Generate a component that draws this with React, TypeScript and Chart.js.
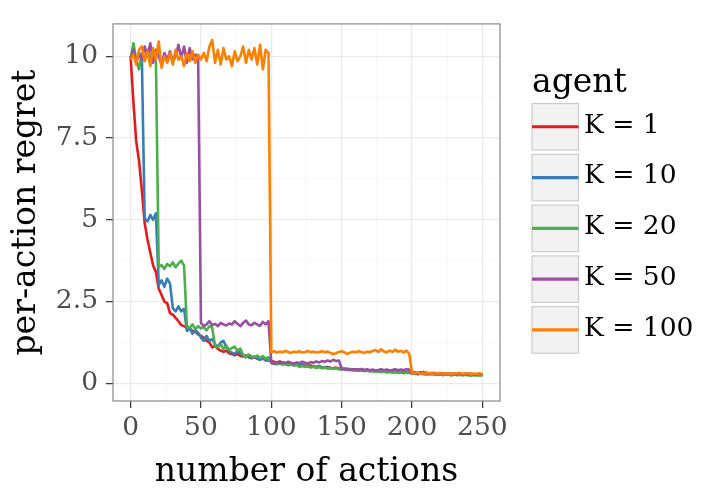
import React, { useEffect, useRef } from "react";
import { Chart, registerables } from "chart.js";

Chart.register(...registerables);

// number of actions (x values)
const actions: number[] = [
  0, 2, 4, 6, 8, 10, 12, 14, 16, 18, 20, 22, 24, 26, 28, 30, 32, 34, 36, 38,
  40, 42, 44, 46, 48, 50, 52, 54, 56, 58, 60, 62, 64, 66, 68, 70, 72, 74, 76, 78,
  80, 82, 84, 86, 88, 90, 92, 94, 96, 98, 100,
  102, 104, 106, 108, 110, 112, 114, 116, 118, 120, 122, 124, 126, 128, 130,
  132, 134, 136, 138, 140, 142, 144, 146, 148, 150,
  152, 154, 156, 158, 160, 162, 164, 166, 168, 170, 172, 174, 176, 178, 180,
  182, 184, 186, 188, 190, 192, 194, 196, 198, 200,
  202, 204, 206, 208, 210, 212, 214, 216, 218, 220, 222, 224, 226, 228, 230,
  232, 234, 236, 238, 240, 242, 244, 246, 248, 250,
];

const regretK1: number[] = [
  10.0, 8.6, 7.4, 6.8, 5.9, 4.9, 4.4, 4.0, 3.6, 3.4,
  2.9, 2.7, 2.5, 2.45, 2.15, 2.1, 2.0, 1.9, 1.78, 1.75,
  1.7, 1.68, 1.6, 1.58, 1.5, 1.45, 1.4, 1.3, 1.25, 1.1,
  1.15, 1.05, 1.0, 0.96, 1.0, 0.92, 0.9, 0.86, 0.9, 0.84,
  0.82, 0.85, 0.8, 0.77, 0.8, 0.75, 0.73, 0.76, 0.71, 0.7, 0.68,
  0.66, 0.64, 0.67, 0.62, 0.6, 0.63, 0.58, 0.6, 0.57, 0.55, 0.58, 0.54, 0.52,
  0.55, 0.51, 0.5, 0.53, 0.49, 0.48, 0.5, 0.47, 0.46, 0.48, 0.45, 0.44,
  0.45, 0.42, 0.44, 0.41, 0.43, 0.4, 0.42, 0.39, 0.41, 0.38, 0.4, 0.37, 0.39,
  0.36, 0.38, 0.37, 0.35, 0.38, 0.36, 0.34, 0.36, 0.33, 0.35, 0.34, 0.32,
  0.33, 0.31, 0.34, 0.3, 0.32, 0.31, 0.29, 0.32, 0.3, 0.28, 0.31, 0.29, 0.3,
  0.27, 0.29, 0.28, 0.3, 0.27, 0.28, 0.26, 0.28, 0.27, 0.25, 0.27, 0.26,
];

const regretK10: number[] = [
  9.9, 10.1, 9.85, 10.05, 9.95, 5.05, 4.95, 5.15, 5.0, 5.2,
  3.0, 3.15, 2.95, 3.2, 3.05, 2.3, 2.2, 2.35, 2.2, 2.28,
  1.6, 1.68, 1.52, 1.62, 1.55, 1.4, 1.3, 1.45, 1.3, 1.35,
  1.2, 1.12, 1.25, 1.3, 1.1, 0.98, 0.94, 0.9, 1.0, 0.92,
  0.85, 0.8, 0.86, 0.78, 0.82, 0.76, 0.72, 0.78, 0.7, 0.73, 0.66,
  0.62, 0.65, 0.6, 0.63, 0.59, 0.56, 0.6, 0.55, 0.58, 0.54, 0.56, 0.52, 0.55,
  0.5, 0.53, 0.49, 0.51, 0.47, 0.5, 0.46, 0.48, 0.45, 0.47, 0.44, 0.46,
  0.43, 0.45, 0.41, 0.43, 0.4, 0.42, 0.39, 0.41, 0.38, 0.4, 0.37, 0.39, 0.36,
  0.38, 0.36, 0.35, 0.37, 0.34, 0.36, 0.33, 0.35, 0.32, 0.34, 0.33, 0.31,
  0.34, 0.3, 0.32, 0.35, 0.31, 0.29, 0.32, 0.3, 0.28, 0.31, 0.29, 0.3, 0.27,
  0.3, 0.28, 0.26, 0.29, 0.27, 0.29, 0.26, 0.27, 0.25, 0.28, 0.26, 0.25,
];

const regretK20: number[] = [
  9.9, 10.4, 9.9, 9.6, 10.1, 9.9, 10.2, 9.95, 10.1, 9.85,
  3.55, 3.62, 3.5, 3.65, 3.58, 3.7, 3.55, 3.66, 3.75, 3.6,
  1.75, 1.7, 1.8, 1.65, 1.75, 1.68, 1.72, 1.62, 1.75, 1.7,
  1.15, 1.1, 1.2, 1.05, 1.15, 1.02, 1.08, 1.12, 1.0, 1.06,
  0.86, 0.8, 0.88, 0.82, 0.8, 0.85, 0.78, 0.83, 0.76, 0.8, 0.62,
  0.6, 0.58, 0.62, 0.57, 0.59, 0.55, 0.58, 0.54, 0.56, 0.5, 0.53, 0.5, 0.52,
  0.48, 0.51, 0.47, 0.5, 0.46, 0.48, 0.45, 0.47, 0.44, 0.46, 0.43, 0.42,
  0.44, 0.4, 0.42, 0.39, 0.41, 0.38, 0.4, 0.37, 0.39, 0.36, 0.38, 0.35, 0.37,
  0.34, 0.36, 0.33, 0.35, 0.33, 0.34, 0.32, 0.34, 0.31, 0.33, 0.32, 0.3,
  0.31, 0.29, 0.3, 0.28, 0.3, 0.27, 0.29, 0.26, 0.28, 0.27, 0.25, 0.28, 0.26,
  0.24, 0.27, 0.25, 0.26, 0.24, 0.26, 0.25, 0.23, 0.26, 0.24, 0.25, 0.24,
];

const regretK50: number[] = [
  9.95, 10.2, 9.8, 10.1, 9.9, 10.3, 10.0, 10.4, 9.8, 10.2,
  10.0, 9.75, 10.1, 9.9, 10.15, 9.85, 10.0, 10.35, 9.95, 10.3,
  9.8, 10.25, 9.9, 10.05, 9.95, 1.85, 1.75, 1.8, 1.9, 1.78,
  1.82, 1.75, 1.85, 1.8, 1.77, 1.83, 1.8, 1.9, 1.82, 1.75,
  1.85, 1.92, 1.8, 1.78, 1.85, 1.8, 1.76, 1.88, 1.8, 1.9, 0.62,
  0.6, 0.64, 0.61, 0.65, 0.62, 0.66, 0.63, 0.6, 0.64, 0.62, 0.66, 0.63, 0.61,
  0.65, 0.63, 0.67, 0.64, 0.68, 0.66, 0.7, 0.67, 0.72, 0.68, 0.7, 0.45,
  0.42, 0.44, 0.41, 0.43, 0.4, 0.42, 0.44, 0.41, 0.43, 0.4, 0.42, 0.39, 0.41,
  0.43, 0.4, 0.42, 0.39, 0.41, 0.43, 0.4, 0.42, 0.41, 0.43, 0.42, 0.3,
  0.3, 0.28, 0.31, 0.29, 0.27, 0.3, 0.28, 0.3, 0.27, 0.29, 0.31, 0.28, 0.3,
  0.27, 0.29, 0.28, 0.3, 0.27, 0.29, 0.28, 0.3, 0.27, 0.28, 0.29, 0.27,
];

const regretK100: number[] = [
  9.9, 10.05, 9.75, 10.2, 10.3, 9.85, 10.15, 9.7, 10.25, 9.9,
  10.45, 9.65, 10.0, 9.8, 10.1, 9.75, 10.2, 9.9, 10.0, 9.7,
  10.1, 9.85, 10.15, 9.8, 10.05, 9.9, 10.1, 9.85, 10.3, 10.5,
  9.8, 10.2, 9.75, 10.25, 9.9, 10.0, 9.7, 10.15, 9.85, 10.0,
  10.3, 9.8, 10.2, 9.9, 10.25, 9.75, 10.35, 9.6, 10.2, 10.1,
  0.95, 0.98, 0.94, 0.97, 0.95, 0.99, 0.96, 0.93, 0.97, 0.95, 0.98, 0.94, 0.96,
  0.99, 0.95, 0.97, 0.94, 0.96, 0.98, 0.95, 0.97, 0.93, 0.9, 0.92, 0.96, 0.98,
  0.95, 0.9, 0.94, 0.97, 0.95, 0.98, 0.96, 0.93, 0.97, 0.95, 0.99, 1.02,
  0.96, 1.04, 0.97, 0.95, 1.0, 0.96, 1.03, 0.97, 0.99, 0.95, 1.0, 0.9,
  0.32, 0.3, 0.33, 0.29, 0.31, 0.3, 0.32, 0.28, 0.31, 0.3, 0.32, 0.29, 0.31,
  0.3, 0.28, 0.31, 0.3, 0.32, 0.29, 0.3, 0.31, 0.28, 0.3, 0.29, 0.31, 0.27,
];

const agentLabels: string[] = ["K = 1", "K = 10", "K = 20", "K = 50", "K = 100"];
const agentColors: string[] = ["#E41A1C", "#377EB8", "#4DAF4A", "#984EA3", "#FF7F00"];
const seriesValues: number[][] = [regretK1, regretK10, regretK20, regretK50, regretK100];

const xTickValues: number[] = [0, 25, 50, 75, 100, 125, 150, 175, 200, 225, 250];
const xTickLabels: string[] = ["0", "", "50", "", "100", "", "150", "", "200", "", "250"];
const yTickValues: number[] = [0, 1.25, 2.5, 3.75, 5, 6.25, 7.5, 8.75, 10];
const yTickLabels: string[] = ["0", "", "2.5", "", "5", "", "7.5", "", "10"];

const FONT = "'DejaVu Serif', serif";
const TITLE_SIZE = 33;
const TEXT_SIZE = 26.5;

const panelBorder = {
  id: "panelBorder",
  afterDatasetsDraw(chart: any) {
    const { ctx, chartArea } = chart;
    ctx.save();
    ctx.strokeStyle = "#7F7F7F";
    ctx.lineWidth = 1.1;
    ctx.strokeRect(chartArea.left, chartArea.top, chartArea.right - chartArea.left, chartArea.bottom - chartArea.top);
    ctx.restore();
  },
};

const ggLegend = {
  id: "ggLegend",
  afterDraw(chart: any) {
    const ctx = chart.ctx;
    ctx.save();
    ctx.fillStyle = "#000000";
    ctx.font = `${TITLE_SIZE}px ${FONT}`;
    ctx.textBaseline = "alphabetic";
    ctx.textAlign = "left";
    ctx.fillText("agent", 532, 92);
    const ds = chart.data.datasets;
    for (let i = 0; i < ds.length; i++) {
      const top = 103.5 + i * 50.8;
      const left = 532;
      const size = 46.5;
      ctx.fillStyle = "#F2F2F2";
      ctx.fillRect(left, top, size, size);
      ctx.strokeStyle = "#CCCCCC";
      ctx.lineWidth = 1.2;
      ctx.strokeRect(left, top, size, size);
      ctx.strokeStyle = ds[i].borderColor;
      ctx.lineWidth = 3.2;
      ctx.beginPath();
      ctx.moveTo(left, top + size / 2);
      ctx.lineTo(left + size, top + size / 2);
      ctx.stroke();
      ctx.fillStyle = "#000000";
      ctx.font = `${TEXT_SIZE}px ${FONT}`;
      ctx.textBaseline = "middle";
      ctx.fillText(ds[i].label, 584, top + size / 2 - 1);
    }
    ctx.restore();
  },
};

function isMajor(list: number[], labels: string[], v: number) {
  const idx = list.indexOf(v);
  return idx >= 0 && labels[idx] !== "";
}

export default function App() {
  const ref = useRef<HTMLCanvasElement | null>(null);

  useEffect(() => {
    document.body.style.margin = "0";
    const canvas = ref.current;
    if (!canvas) return;
    const datasets = seriesValues.map((vals, i) => ({
      label: agentLabels[i],
      data: actions.map((x, j) => ({ x, y: vals[j] })),
      borderColor: agentColors[i],
      backgroundColor: agentColors[i],
      borderWidth: 2.6,
      pointRadius: 0,
      tension: 0,
      borderJoinStyle: "round" as const,
      fill: false,
      order: seriesValues.length - 1 - i,
    }));

    const chart = new Chart(canvas, {
      type: "line",
      data: { datasets },
      plugins: [panelBorder, ggLegend],
      options: {
        animation: false,
        responsive: false,
        maintainAspectRatio: false,
        layout: { padding: { top: 16, right: 223, left: 0, bottom: 0 } },
        plugins: { legend: { display: false }, tooltip: { enabled: false } },
        scales: {
          x: {
            type: "linear",
            min: -12.5,
            max: 262.5,
            afterBuildTicks: (s: any) => {
              s.ticks = xTickValues.map((v) => ({ value: v }));
            },
            afterFit: (s: any) => {
              s.height = 97;
            },
            ticks: {
              autoSkip: false,
              maxRotation: 0,
              padding: 4,
              color: "#4D4D4D",
              font: { family: FONT, size: TEXT_SIZE },
              callback: (v: any) => {
                const idx = xTickValues.indexOf(Number(v));
                return idx >= 0 ? xTickLabels[idx] : "";
              },
            },
            grid: {
              color: (c: any) => (isMajor(xTickValues, xTickLabels, c.tick?.value) ? "#EBEBEB" : "#F5F5F5"),
              lineWidth: (c: any) => (isMajor(xTickValues, xTickLabels, c.tick?.value) ? 1.3 : 0.7),
              tickColor: (c: any) => (isMajor(xTickValues, xTickLabels, c.tick?.value) ? "#333333" : "rgba(0,0,0,0)"),
              tickWidth: 1.2,
              tickLength: 7,
              drawTicks: true,
            },
            border: { display: false },
            title: {
              display: true,
              text: "number of actions",
              color: "#000000",
              font: { family: FONT, size: TITLE_SIZE },
              padding: { top: 0, bottom: 6 },
            },
          },
          y: {
            type: "linear",
            min: -0.54,
            max: 10.99,
            afterBuildTicks: (s: any) => {
              s.ticks = yTickValues.map((v) => ({ value: v }));
            },
            afterFit: (s: any) => {
              s.width = 113;
            },
            ticks: {
              autoSkip: false,
              padding: 8,
              color: "#4D4D4D",
              font: { family: FONT, size: TEXT_SIZE },
              callback: (v: any) => {
                const idx = yTickValues.indexOf(Number(v));
                return idx >= 0 ? yTickLabels[idx] : "";
              },
            },
            grid: {
              color: (c: any) => (isMajor(yTickValues, yTickLabels, c.tick?.value) ? "#EBEBEB" : "#F5F5F5"),
              lineWidth: (c: any) => (isMajor(yTickValues, yTickLabels, c.tick?.value) ? 1.3 : 0.7),
              tickColor: (c: any) => (isMajor(yTickValues, yTickLabels, c.tick?.value) ? "#333333" : "rgba(0,0,0,0)"),
              tickWidth: 1.2,
              tickLength: 7,
              drawTicks: true,
            },
            border: { display: false },
            title: {
              display: true,
              text: "per-action regret",
              color: "#000000",
              font: { family: FONT, size: TITLE_SIZE },
              padding: { top: 6.5, bottom: 0 },
            },
          },
        },
      },
    });
    return () => chart.destroy();
  }, []);

  return (
    <div style={{ position: "fixed", left: 0, top: 0, width: 723, height: 498, background: "#FFFFFF" }}>
      <canvas ref={ref} width={723} height={498} style={{ width: 723, height: 498, display: "block" }} />
    </div>
  );
}
